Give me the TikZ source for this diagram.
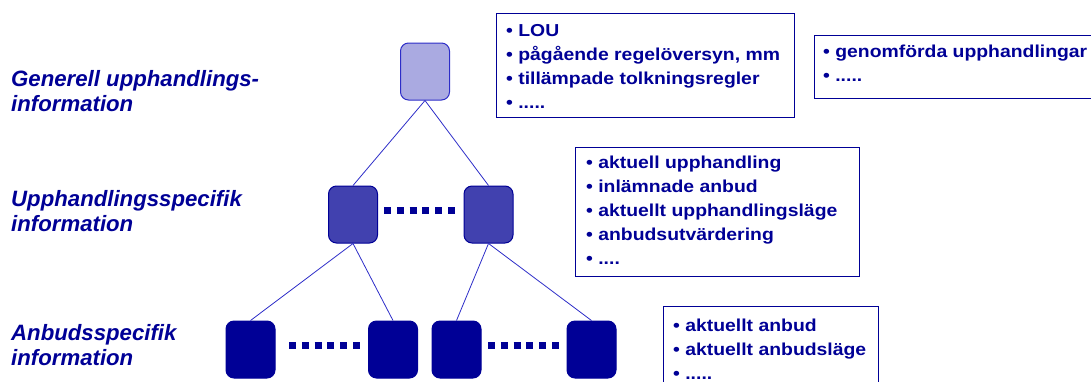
\documentclass[tikz,border=0pt]{standalone}
\usepackage{fontspec}
\setmainfont{Liberation Sans}
\newfontfamily\boxfont{Liberation Sans}[FakeStretch=1.12]
\usepackage{tikz}
\usetikzlibrary{shapes,arrows}
\definecolor{navy}{RGB}{0,0,150}
\definecolor{linkblue}{RGB}{45,45,200}
\definecolor{lightdots}{RGB}{170,170,225}
\definecolor{densedots}{RGB}{65,65,175}
\tikzstyle{level} = [rounded corners=8pt, minimum width=49pt, minimum height=57pt, inner sep=0pt, line width=1pt]
\tikzstyle{link} = [draw, linkblue, line width=0.8pt]
\tikzstyle{gap} = [navy, line width=7pt, dash pattern=on 7pt off 5.8pt]
\tikzstyle{infobox} = [draw=navy, line width=1pt, anchor=north west, inner sep=0pt]
\tikzstyle{infotext} = [anchor=north west, inner sep=0pt, align=left, text=navy, font=\boxfont\bfseries\fontsize{17.3}{24}\selectfont]
\tikzstyle{levellabel} = [anchor=north west, inner sep=0pt, align=left, text=navy, font=\bfseries\itshape\fontsize{22.2}{25}\selectfont]

\begin{document}
\begin{tikzpicture}[x=1pt, y=-1pt]
            \clip (0,0) rectangle (1091,381);

            \node[levellabel] (genlabel) at (11,70) {\rule{0pt}{16pt}Generell upphandlings-\\information};
            \node[levellabel] (speclabel) at (11,190.7) {\rule{0pt}{16pt}Upphandlingsspecifik\\information};
            \node[levellabel] (bidlabel) at (11,324.7) {\rule{0pt}{16pt}Anbudsspecifik\\information};

            \node[level, draw=linkblue, fill=lightdots] (gen) at (425,71.5) {};
            \node[level, draw=navy, fill=densedots] (spec1) at (353,214.5) {};
            \node[level, draw=navy, fill=densedots] (spec2) at (488.5,214.5) {};
            \node[level, draw=navy, fill=navy] (bid1) at (250.5,349.5) {};
            \node[level, draw=navy, fill=navy] (bid2) at (393,349.5) {};
            \node[level, draw=navy, fill=navy] (bid3) at (456.5,349.5) {};
            \node[level, draw=navy, fill=navy] (bid4) at (591.5,349.5) {};

            \draw[link] (gen.south) -- (spec1.north);
            \draw[link] (gen.south) -- (spec2.north);
            \draw[link] (spec1.south) -- (bid1.north);
            \draw[link] (spec1.south) -- (bid2.north);
            \draw[link] (spec2.south) -- (bid3.north);
            \draw[link] (spec2.south) -- (bid4.north);

            \draw[gap] (384,210.5) -- (455,210.5);
            \draw[gap] (289,345) -- (360,345);
            \draw[gap] (488,345) -- (559,345);

            \node[infobox, minimum width=298pt, minimum height=104pt] (genbox) at (496,12.7) {};
            \node[infotext] (gentext) at (506,23) {\rule{0pt}{13pt}• LOU\\• pågående regelöversyn, mm\\• tillämpade tolkningsregler\\• .....};
            \node[infobox, minimum width=300pt, minimum height=63pt] (donebox) at (814,35) {};
            \node[infotext] (donetext) at (823,44) {\rule{0pt}{13pt}• genomförda upphandlingar\\• .....};
            \node[infobox, minimum width=284pt, minimum height=129pt] (specbox) at (575,147) {};
            \node[infotext] (spectext) at (586,155) {\rule{0pt}{13pt}• aktuell upphandling\\• inlämnade anbud\\• aktuellt upphandlingsläge\\• anbudsutvärdering\\• ....};
            \node[infobox, minimum width=215pt, minimum height=90pt] (bidbox) at (663,306) {};
            \node[infotext] (bidtext) at (673,318) {\rule{0pt}{13pt}• aktuellt anbud\\• aktuellt anbudsläge\\• .....};
\end{tikzpicture}
\end{document}
